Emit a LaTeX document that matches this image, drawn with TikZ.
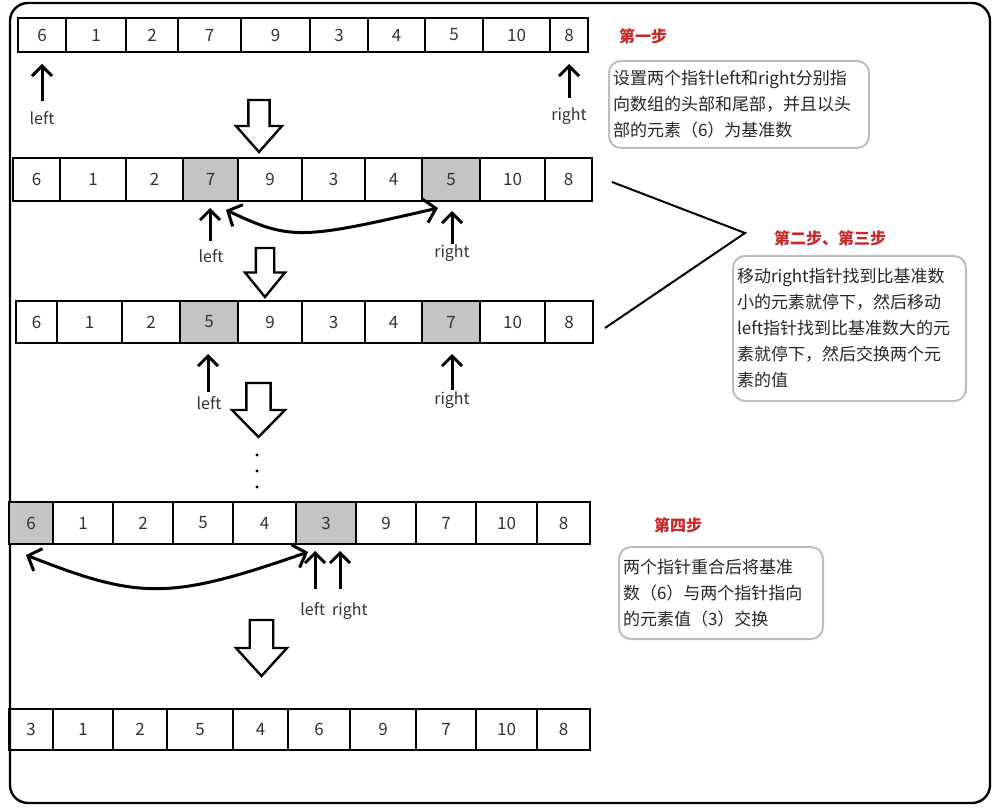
\documentclass[tikz,border=0pt]{standalone}
\usepackage{fontspec}
\setmainfont{Noto Sans CJK SC}
\usetikzlibrary{arrows.meta}
\definecolor{cellgray}{RGB}{196,196,196}
\definecolor{boxgray}{RGB}{190,190,190}
\definecolor{headred}{RGB}{200,40,40}
\tikzset{
  cellbox/.style={draw=black,line width=2.4pt},
  num/.style={font=\fontsize{17}{17}\selectfont,text=black!80},
  upar/.style={line width=3pt,-{Straight Barb[length=10pt,width=20pt,line width=3pt]}},
  lbl/.style={font=\fontsize{16}{16}\selectfont,text=black!80},
  bigar/.style={draw=black,line width=2.4pt,fill=white,line join=miter},
  swap/.style={line width=3pt,{Straight Barb[length=11pt,width=24pt,line width=3pt]}-{Straight Barb[length=11pt,width=24pt,line width=3pt]}},
  note/.style={draw=boxgray,line width=2pt,rounded corners=12pt,align=left,anchor=north west,inner sep=4pt,font=\fontsize{17}{26}\selectfont,text=black!85},
  head/.style={font=\bfseries\fontsize{16}{16}\selectfont,text=headred},
}
\newcommand\cellrow[4]{% name, top, bottom, list a/b/v/shaded
  \foreach \a/\b/\v/\s [count=\i] in {#4}{
    \ifnum\s=1 \fill[cellgray] (\a,#2) rectangle (\b,#3);\fi
    \draw[cellbox] (\a,#2) rectangle (\b,#3);
    \node[num] (#1\i) at ({(\a+\b)/2},{(#2+#3)/2}) {\v};
  }}
\newcommand\bigarrow[4]{% left, right, top, tip
  \draw[bigar] ({#1+(#2-#1)*0.27},#3) -- ({#1+(#2-#1)*0.73},#3) -- ({#1+(#2-#1)*0.73},{#3+(#4-#3)*0.5}) -- (#2,{#3+(#4-#3)*0.5}) -- ({(#1+#2)/2},#4) -- (#1,{#3+(#4-#3)*0.5}) -- ({#1+(#2-#1)*0.27},{#3+(#4-#3)*0.5}) -- cycle;}
\begin{document}
\begin{tikzpicture}[x=1pt,y=-1pt]
\useasboundingbox (0,0) rectangle (996,810);
\draw[line width=2.4pt,rounded corners=18pt] (10,3) rectangle (990,803);
% rows
\cellrow{a}{18}{52}{18/66/6/0,66/126/1/0,126/178/2/0,178/241/7/0,241/310/9/0,310/368/3/0,368/425/4/0,425/483/5/0,483/550/10/0,550/588/8/0}
\cellrow{b}{158}{201}{13/60/6/0,60/126/1/0,126/183/2/0,183/238/7/1,238/302/9/0,302/365/3/0,365/422/4/0,422/480/5/1,480/545/10/0,545/592/8/0}
\cellrow{c}{301}{343}{16/57/6/0,57/122/1/0,122/180/2/0,180/238/5/1,238/302/9/0,302/365/3/0,365/422/4/0,422/480/7/1,480/545/10/0,545/593/8/0}
\cellrow{d}{502}{544}{9/53/6/1,53/113/1/0,113/173/2/0,173/233/5/0,233/296/4/0,296/356/3/1,356/416/9/0,416/476/7/0,476/537/10/0,537/590/8/0}
\cellrow{e}{709}{750}{9/53/3/0,53/113/1/0,113/167/2/0,167/233/5/0,233/288/4/0,288/350/6/0,350/416/9/0,416/476/7/0,476/537/10/0,537/590/8/0}
% pointer arrows
\node[lbl] (l1) at (42,118) {left};
\node[lbl] (r1) at (569,116) {right};
\draw[upar] (42,101) -- (42,64);
\draw[upar] (569,98) -- (569,64);
\node[lbl] (l2) at (211,256) {left};
\node[lbl] (r2) at (452,253) {right};
\draw[upar] (210,241) -- (210,208);
\draw[upar] (452,244) -- (452,211);
\node[lbl] (l3) at (209,403) {left};
\node[lbl] (r3) at (452,400) {right};
\draw[upar] (208,392) -- (208,354);
\draw[upar] (452,390) -- (452,354);
\node[lbl] (lr4) at (334,611) {left\ \ right};
\draw[upar] (315,589) -- (315,551);
\draw[upar] (340,589) -- (340,551);
% swaps
\coordinate (s1) at (226,210); \coordinate (s2) at (438,208);
\draw[swap] (s1) .. controls (290,240) and (300,240) .. (s2);
\coordinate (s3) at (26,555); \coordinate (s4) at (308,552);
\draw[swap] (s3) .. controls (140,600) and (170,600) .. (s4);
% big arrows
\bigarrow{236}{282}{100}{152}
\bigarrow{245}{285}{248}{297}
\bigarrow{232}{285}{383}{437}
\bigarrow{236}{287}{620}{676}
% dots
\foreach \y in {455,471,487} \fill (257,\y) circle (1.6pt);
% notes
\node[head] (h1) at (643,36) {第一步};
\node[note,text width=252pt,minimum height=87pt] (n1) at (608,60) {设置两个指针left和right分别指\\向数组的头部和尾部，并且以头\\部的元素（6）为基准数};
\node[head] (h2) at (830,238) {第二步、第三步};
\node[note,text width=225pt,minimum height=145pt] (n2) at (732,255) {移动right指针找到比基准数\\小的元素就停下，然后移动\\left指针找到比基准数大的元\\素就停下，然后交换两个元\\素的值};
\node[head] (h3) at (678,525) {第四步};
\node[note,text width=196pt,minimum height=92pt] (n3) at (618,546) {两个指针重合后将基准\\数（6）与两个指针指向\\的元素值（3）交换};
% brace lines
\coordinate (tip) at (745,233);
\draw[line width=2pt] (612,182) -- (tip) -- (605,328);
\end{tikzpicture}
\end{document}
